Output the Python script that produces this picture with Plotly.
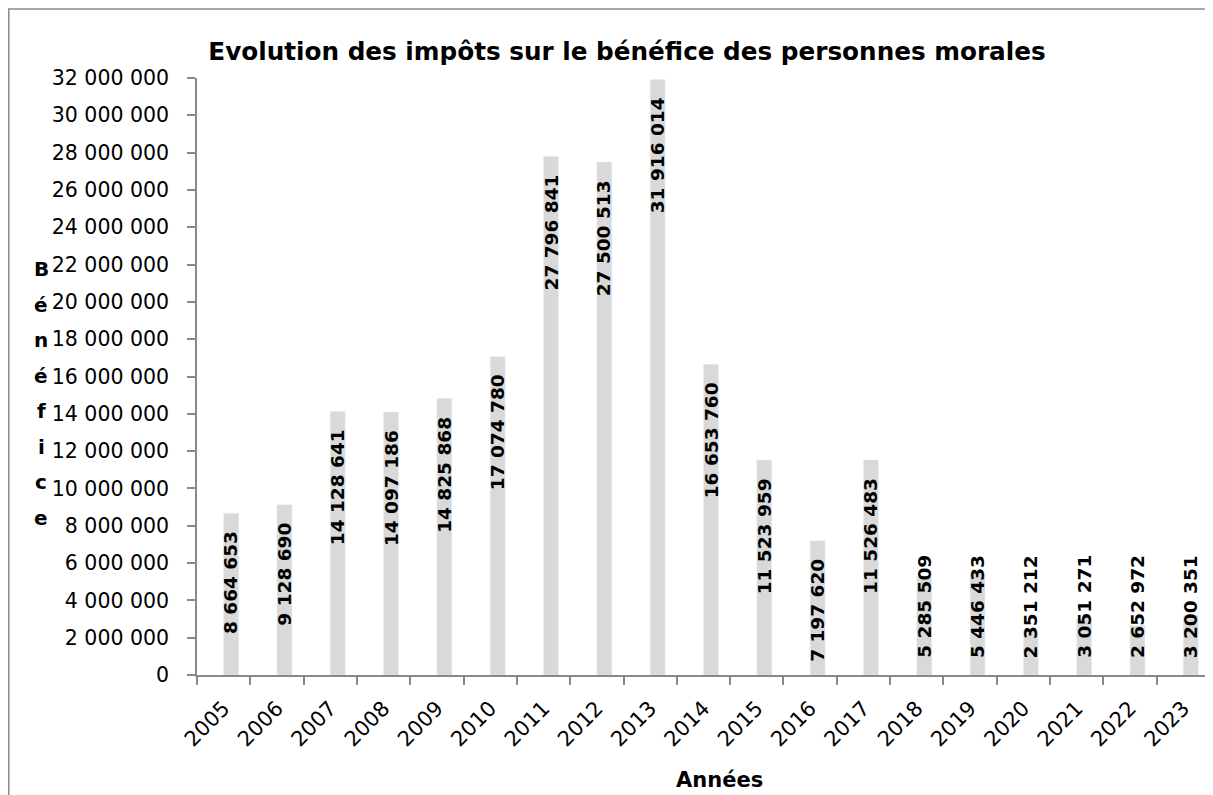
import plotly.graph_objects as go

years = ['2005', '2006', '2007', '2008', '2009', '2010', '2011', '2012', '2013', '2014',
         '2015', '2016', '2017', '2018', '2019', '2020', '2021', '2022', '2023']
impots = [8664653, 9128690, 14128641, 14097186, 14825868, 17074780, 27796841, 27500513,
          31916014, 16653760, 11523959, 7197620, 11526483, 5285509, 5446433, 2351212,
          3051271, 2652972, 3200351]
y_ticks = list(range(0, 32000001, 2000000))

title = 'Evolution des impôts sur le bénéfice des personnes morales'
y_title = 'Bénéfice'
x_title = 'Années'

# the page body has an 8px margin, so the figure starts at (8, 8)
OFF = 8
W, H = 1213 - OFF, 795 - OFF
ML, MR, MT, MB = 189, 3, 70, 120
PW, PH = W - ML - MR, H - MT - MB

AXIS_COL = '#898989'
BAR_COL = '#d9d9d9'


def px_x(x):
    # reference pixel -> paper x
    return (x - OFF - ML) / PW


def px_y(y):
    # reference pixel -> paper y
    return (H - MB - (y - OFF)) / PH


fig = go.Figure()
fig.add_trace(go.Bar(x=years, y=impots, marker_color=BAR_COL,
                     offset=0.0, width=0.28, hoverinfo='x+y'))

# data labels, rotated, "inside end" like Excel; short bars get them at the base
lab_font = dict(family='DejaVu Sans', size=18.5, color='black', weight='bold')
for i, v in enumerate(impots):
    lab = f'{v:,}'.replace(',', ' ')
    if v > 6000000:
        fig.add_annotation(x=i, y=v, text=lab, textangle=-90, showarrow=False,
                           xanchor='center', yanchor='top', xshift=7.5, yshift=-16,
                           font=lab_font)
    else:
        fig.add_annotation(x=i, y=0, text=lab, textangle=-90, showarrow=False,
                           xanchor='center', yanchor='bottom', xshift=7.5, yshift=15,
                           font=lab_font)

# vertical stacked y title
for i, ch in enumerate(y_title):
    fig.add_annotation(xref='paper', yref='paper', x=px_x(41), y=px_y(269 + 35.5 * i),
                       text=ch, showarrow=False, xanchor='center', yanchor='middle',
                       font=dict(family='DejaVu Sans', size=20, color='black',
                                 weight='bold'))

fig.add_annotation(xref='paper', yref='paper', x=px_x(719), y=px_y(780),
                   text=x_title, showarrow=False, xanchor='center', yanchor='middle',
                   font=dict(family='DejaVu Sans', size=21, color='black', weight='bold'))

# outer chart border
fig.add_shape(type='rect', xref='paper', yref='paper',
              x0=px_x(8.8), x1=px_x(1225), y0=px_y(805), y1=px_y(9),
              line=dict(color='#8c8c8c', width=1.5), fillcolor='rgba(0,0,0,0)')

fig.update_layout(
    width=W, height=H,
    margin=dict(l=ML, r=MR, t=MT, b=MB),
    paper_bgcolor='white', plot_bgcolor='white',
    separators=', ',
    showlegend=False,
    title=dict(text=title, x=(627 - OFF) / W, xanchor='center',
               y=1 - (51 - OFF) / H, yanchor='middle',
               font=dict(family='DejaVu Sans', size=24.7, color='black', weight='bold')),
    font=dict(family='DejaVu Sans', color='black'),
)
fig.update_xaxes(type='category', tickson='boundaries', tickangle=-45,
                 ticks='outside', ticklen=8, tickcolor=AXIS_COL, tickwidth=1.5,
                 showline=True, linecolor=AXIS_COL, linewidth=1.5,
                 showgrid=False, tickfont=dict(size=21, color='black'),
                 ticklabelstandoff=11,
                 range=[-0.5, len(years) - 0.5])
fig.update_yaxes(range=[0, 32000000], tickvals=y_ticks, tickformat=',d',
                 ticks='outside', ticklen=8, tickcolor=AXIS_COL, tickwidth=1.5,
                 showline=True, linecolor=AXIS_COL, linewidth=1.5,
                 showgrid=False, zeroline=False, ticklabelstandoff=14,
                 tickfont=dict(size=20.5, color='black'))

fig.write_html('out.html')
